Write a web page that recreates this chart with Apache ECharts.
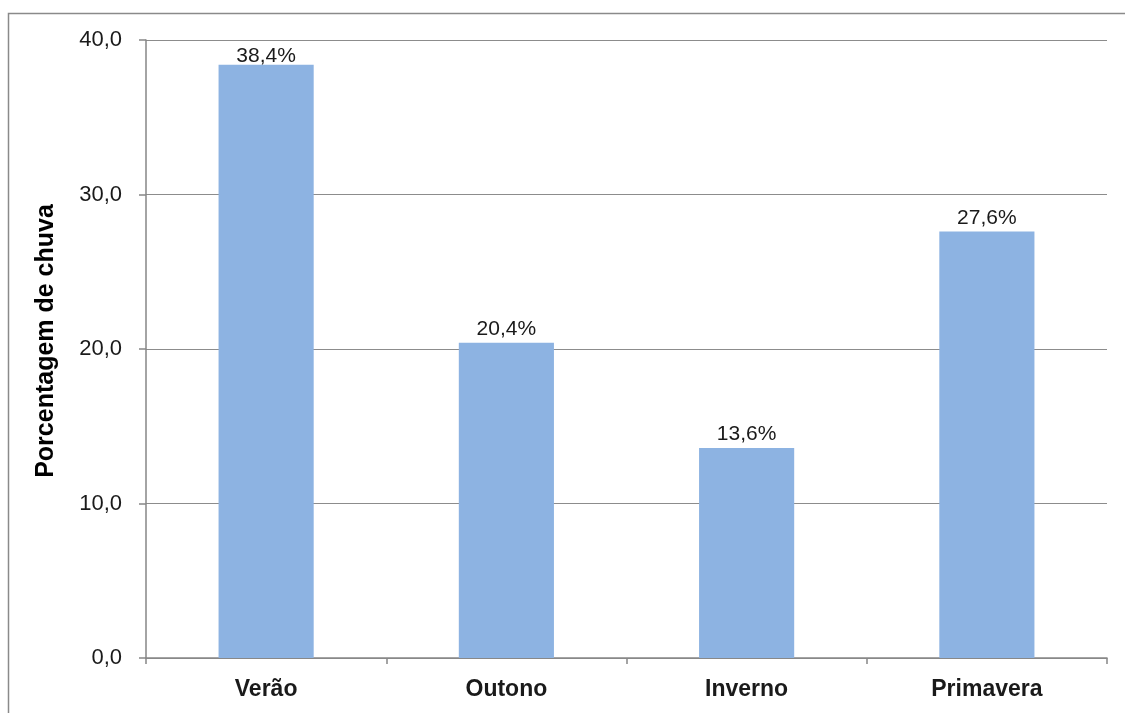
<!DOCTYPE html>
<html>
<head>
<meta charset="utf-8">
<script src="https://cdn.jsdelivr.net/npm/echarts@6/dist/echarts.min.js"></script>
<style>
  html, body { margin: 0; padding: 0; background: #fff; }
  #chart { width: 1125px; height: 713px; }
</style>
</head>
<body>
<div id="chart"></div>
<script>
// Estações do ano e percentagem de chuva em cada uma
const seasons = ['Verão', 'Outono', 'Inverno', 'Primavera'];
const rainShare = [38.4, 20.4, 13.6, 27.6];
const yTicks = [0, 10, 20, 30, 40];

const fmtComma = (v, digits) => v.toFixed(digits).replace('.', ',');
const yMax = yTicks[yTicks.length - 1];

// Labels of bars that reach the top of the plot are tucked in closer to the bar
const barData = rainShare.map(v => ({
  value: v,
  label: { distance: v / yMax > 0.95 ? -2 : 3 }
}));

const chart = echarts.init(document.getElementById('chart'), null, { renderer: 'canvas' });

chart.setOption({
  animation: false,
  backgroundColor: '#ffffff',
  graphic: [{
    type: 'rect',
    shape: { x: 8.5, y: 13.5, width: 1130, height: 720 },
    style: { fill: 'none', stroke: '#8a8a8a', lineWidth: 1.5 },
    silent: true
  }],
  grid: { left: 146, right: 18, top: 40, bottom: 55, containLabel: false },
  xAxis: {
    type: 'category',
    data: seasons,
    boundaryGap: true,
    axisLine: { show: true, lineStyle: { color: '#868686', width: 1.5 } },
    axisTick: { show: true, length: 6, alignWithLabel: false, lineStyle: { color: '#868686', width: 1.5 } },
    axisLabel: {
      margin: 20,
      fontFamily: 'Liberation Sans, Arial, sans-serif',
      fontSize: 23,
      fontWeight: 'bold',
      color: '#1a1a1a'
    },
    splitLine: { show: false }
  },
  yAxis: {
    type: 'value',
    min: yTicks[0],
    max: yMax,
    interval: yTicks[1] - yTicks[0],
    name: 'Porcentagem de chuva',
    nameLocation: 'middle',
    nameRotate: 90,
    nameGap: 87,
    nameTextStyle: {
      fontFamily: 'Liberation Sans, Arial, sans-serif',
      fontSize: 25,
      fontWeight: 'bold',
      color: '#000000',
      padding: [0, 0, 0, 16]
    },
    axisLine: { show: true, lineStyle: { color: '#868686', width: 1.5 } },
    axisTick: { show: true, length: 7, inside: false, lineStyle: { color: '#868686', width: 1.5 } },
    axisLabel: {
      margin: 24,
      fontFamily: 'Liberation Sans, Arial, sans-serif',
      fontSize: 22,
      color: '#1a1a1a',
      formatter: v => fmtComma(v, 1)
    },
    splitLine: { show: true, lineStyle: { color: '#8c8c8c', width: 1.2 } }
  },
  series: [{
    type: 'bar',
    data: barData,
    barWidth: '39.6%',
    itemStyle: { color: '#8db3e2' },
    label: {
      show: true,
      position: 'top',
      distance: 3,
      fontFamily: 'Liberation Sans, Arial, sans-serif',
      fontSize: 21,
      color: '#1a1a1a',
      formatter: p => fmtComma(p.value, 1) + '%'
    }
  }]
});
</script>
</body>
</html>
